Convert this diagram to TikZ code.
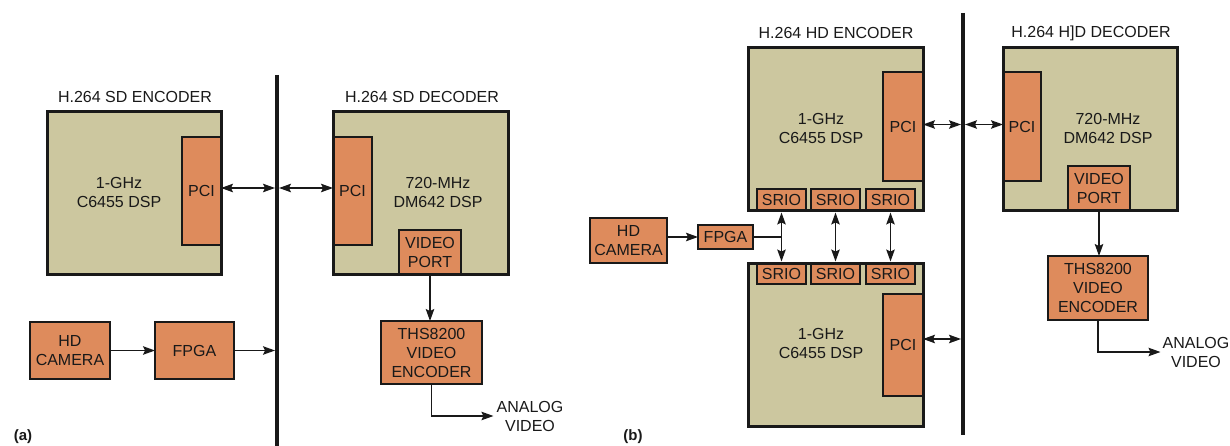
\documentclass[tikz,border=0pt]{standalone}
\usepackage{fontspec}
\setmainfont{Liberation Sans}
\usetikzlibrary{arrows.meta}
\definecolor{tanfill}{RGB}{204,199,159}
\definecolor{orgfill}{RGB}{222,139,92}
\definecolor{ink}{RGB}{25,25,25}
\tikzset{
  fnt/.style={font=\fontsize{16}{19}\selectfont, text=ink},
  dspbox/.style={fill=tanfill, draw=ink, line width=3pt, inner sep=0pt, outer sep=0pt, anchor=north west},
  dspedge/.style={draw=ink, line width=3pt},
  blk/.style={fnt, fill=orgfill, draw=ink, line width=1.5pt, inner sep=0pt, outer sep=0pt, align=center, anchor=north west},
  txt/.style={fnt, align=center, inner sep=0pt},
  busline/.style={draw=ink, line width=4pt},
  conn/.style={draw=ink, line width=1.4pt},
  arr/.style={conn, -{Stealth[length=12pt,width=8.5pt,inset=2pt]}},
  darr/.style={conn, {Stealth[length=12pt,width=8.5pt,inset=2pt]}-{Stealth[length=12pt,width=8.5pt,inset=2pt]}},
  panel/.style={font=\bfseries\fontsize{15}{18}\selectfont, text=ink, inner sep=0pt}
}
\begin{document}
\begin{tikzpicture}[x=1pt,y=-1pt]
\useasboundingbox (0,0) rectangle (1230,446);
% ================= panel (a) =================
\coordinate (busAt) at (277,75);
\coordinate (busAb) at (277,446);
\draw[busline] (busAt) -- (busAb);
% encoder
\node[txt] (tEncA) at (135,97) {H.264 SD ENCODER};
\node[dspbox, minimum width=174pt, minimum height=162pt] (encA) at (47,112) {};
\node[blk, minimum width=39pt, minimum height=108pt] (pciA) at (182,137) {PCI};
\draw[dspedge] (encA.north west) rectangle (encA.south east);
\node[txt] (dspA) at (119,192) {1-GHz\\C6455 DSP};
% decoder
\node[txt] (tDecA) at (422,97) {H.264 SD DECODER};
\node[dspbox, minimum width=175pt, minimum height=162pt] (decA) at (333,112) {};
\node[blk, minimum width=39pt, minimum height=108pt] (pciDA) at (333,137) {PCI};
\node[blk, minimum width=62pt, minimum height=44pt] (vpA) at (399,230) {VIDEO\\PORT};
\draw[dspedge] (decA.north west) rectangle (decA.south east);
\node[txt] (dspDA) at (438,192) {720-MHz\\DM642 DSP};
% lower blocks
\node[blk, minimum width=101pt, minimum height=63pt] (thsA) at (381,321) {THS8200\\VIDEO\\ENCODER};
\node[blk, minimum width=80pt, minimum height=57pt] (camA) at (30,322) {HD\\CAMERA};
\node[blk, minimum width=79pt, minimum height=57pt] (fpgaA) at (155,322) {FPGA};
\node[txt] (anaA) at (530,416) {ANALOG\\VIDEO};
\node[panel] (labA) at (23,437) {(a)};
% connectors (a)
\draw[darr,shorten >=2pt] ([yshift=3pt]pciA.east) -- ([yshift=3pt]pciA.east -| busAt);
\draw[darr,shorten <=2pt] ([yshift=3pt]pciDA.west -| busAt) -- ([yshift=3pt]pciDA.west);
\draw[arr] (camA.east) -- (fpgaA.west);
\draw[arr,shorten >=2pt] (fpgaA.east) -- (fpgaA.east -| busAt);
\draw[arr] (vpA.south) -- (vpA.south |- thsA.north);
\draw[arr] (thsA.south) |- ([xshift=-3pt]anaA.west);
% ================= panel (b) =================
\coordinate (busBt) at (963,13);
\coordinate (busBb) at (963,435);
\draw[busline] (busBt) -- (busBb);
% top encoder
\node[txt] (tEncB) at (836,33) {H.264 HD ENCODER};
\node[dspbox, minimum width=175pt, minimum height=163pt] (encB1) at (748,48) {};
\node[blk, minimum width=40pt, minimum height=109pt] (pciB1) at (883,72) {PCI};
\node[blk, minimum width=49pt, minimum height=22pt] (sT1) at (757,189) {SRIO};
\node[blk, minimum width=49pt, minimum height=22pt] (sT2) at (811,189) {SRIO};
\node[blk, minimum width=49pt, minimum height=22pt] (sT3) at (866,189) {SRIO};
\draw[dspedge] (encB1.north west) rectangle (encB1.south east);
\node[txt] (dspB1) at (821,128) {1-GHz\\C6455 DSP};
% bottom encoder
\node[dspbox, minimum width=175pt, minimum height=163pt] (encB2) at (748,263) {};
\node[blk, minimum width=40pt, minimum height=102pt] (pciB2) at (883,294) {PCI};
\node[blk, minimum width=49pt, minimum height=21pt] (sB1) at (757,263) {SRIO};
\node[blk, minimum width=49pt, minimum height=21pt] (sB2) at (811,263) {SRIO};
\node[blk, minimum width=49pt, minimum height=21pt] (sB3) at (866,263) {SRIO};
\draw[dspedge] (encB2.north west) rectangle (encB2.south east);
\node[txt] (dspB2) at (821,343) {1-GHz\\C6455 DSP};
% camera, fpga
\node[blk, minimum width=77pt, minimum height=45pt] (camB) at (590,218) {HD\\CAMERA};
\node[blk, minimum width=55pt, minimum height=24pt] (fpgaB) at (698,225) {FPGA};
% decoder
\node[txt] (tDecB) at (1091,33) {H.264 H]D DECODER};
\node[dspbox, minimum width=174pt, minimum height=163pt] (decB) at (1003,48) {};
\node[blk, minimum width=38pt, minimum height=109pt] (pciDB) at (1003,72) {PCI};
\node[blk, minimum width=62pt, minimum height=45pt] (vpB) at (1068,166) {VIDEO\\PORT};
\draw[dspedge] (decB.north west) rectangle (decB.south east);
\node[txt] (dspDB) at (1108,128) {720-MHz\\DM642 DSP};
\node[blk, minimum width=100pt, minimum height=64pt] (thsB) at (1048,256) {THS8200\\VIDEO\\ENCODER};
\node[txt] (anaB) at (1196,352) {ANALOG\\VIDEO};
\node[panel] (labB) at (633,437) {(b)};
% connectors (b)
\draw[arr] (camB.east |- fpgaB.west) -- (fpgaB.west);
\draw[conn] (fpgaB.east) -- (fpgaB.east -| sT1.south);
\draw[darr,shorten <=1.5pt,shorten >=1.5pt] (sT1.south) -- (sB1.north);
\draw[darr,shorten <=1.5pt,shorten >=1.5pt] (sT2.south) -- (sB2.north);
\draw[darr,shorten <=1.5pt,shorten >=1.5pt] (sT3.south) -- (sB3.north);
\draw[darr,shorten >=2pt] ([yshift=2pt]pciB1.east) -- ([yshift=2pt]pciB1.east -| busBt);
\draw[darr,shorten <=2pt] ([yshift=2pt]pciDB.west -| busBt) -- ([yshift=2pt]pciDB.west);
\draw[darr,shorten >=2pt] ([yshift=6pt]pciB2.east) -- ([yshift=6pt]pciB2.east -| busBt);
\draw[arr] (vpB.south) -- (vpB.south |- thsB.north);
\draw[arr] (thsB.south) |- ([xshift=-2pt]anaB.west);
\end{tikzpicture}
\end{document}
